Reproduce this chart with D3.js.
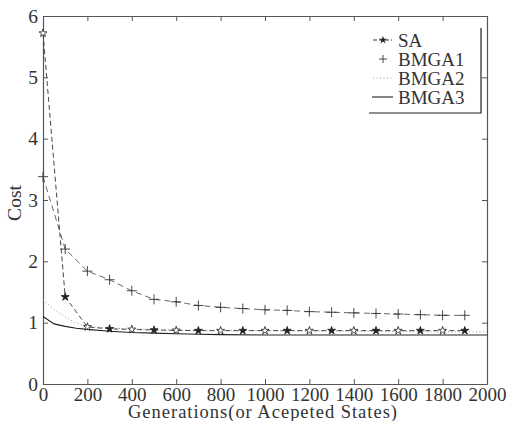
<!DOCTYPE html>
<html lang="en">
<head>
<meta charset="UTF-8">
<script src="https://d3js.org/d3.v7.min.js"></script>
<style>
  html, body { margin: 0; padding: 0; background: #fff; overflow: hidden }
  .axis path, .axis line { stroke: #555; }
</style>
</head>
<body>
<svg id="chart" width="509" height="421"></svg>
<script>
const xTicks = [0, 200, 400, 600, 800, 1000, 1200, 1400, 1600, 1800, 2000];
const yTicks = [0, 1, 2, 3, 4, 5, 6];

const saX = [0, 100, 200, 300, 400, 500, 600, 700, 800, 900, 1000, 1100, 1200, 1300, 1400, 1500, 1600, 1700, 1800, 1900];
const saY = [5.72, 1.42, 0.93, 0.9, 0.89, 0.88, 0.875, 0.87, 0.87, 0.87, 0.87, 0.87, 0.87, 0.87, 0.87, 0.87, 0.87, 0.87, 0.87, 0.87];

const bm1X = [0, 100, 200, 300, 400, 500, 600, 700, 800, 900, 1000, 1100, 1200, 1300, 1400, 1500, 1600, 1700, 1800, 1900];
const bm1Y = [3.38, 2.2, 1.84, 1.7, 1.52, 1.38, 1.34, 1.28, 1.25, 1.23, 1.21, 1.2, 1.18, 1.17, 1.16, 1.15, 1.14, 1.13, 1.12, 1.12];

const bm2X = [0, 70, 145, 200, 300, 400, 500, 600, 800, 1000, 1200, 1400, 1600, 1800, 2000];
const bm2Y = [1.37, 1.16, 1.0, 0.94, 0.91, 0.9, 0.89, 0.88, 0.875, 0.87, 0.865, 0.86, 0.855, 0.85, 0.85];

const bm3X = [0, 50, 100, 150, 200, 300, 400, 500, 600, 700, 800, 1000, 1200, 1400, 1600, 1800, 2000];
const bm3Y = [1.1, 0.98, 0.94, 0.91, 0.89, 0.86, 0.84, 0.83, 0.82, 0.81, 0.805, 0.8, 0.8, 0.8, 0.8, 0.8, 0.8];

const FONT = "'Liberation Serif', 'DejaVu Serif', serif";
const svg = d3.select("#chart");
const L = 43, R = 487, T = 16, B = 384;

const x = d3.scaleLinear().domain([0, 2000]).range([L, R]);
const y = d3.scaleLinear().domain([0, 6]).range([B, T]);

// frame with inward ticks on all sides
svg.append("g").attr("class", "axis").attr("transform", `translate(0,${B})`)
  .call(d3.axisBottom(x).tickValues(xTicks).tickFormat(d3.format("d")).tickSizeInner(-5).tickSizeOuter(0).tickPadding(3))
  .call(g => g.selectAll("text").attr("font-size", 19));
svg.append("g").attr("class", "axis").attr("transform", `translate(0,${T})`)
  .call(d3.axisTop(x).tickValues(xTicks).tickSizeInner(-5).tickSizeOuter(0).tickFormat(""));
svg.append("g").attr("class", "axis").attr("transform", `translate(${L},0)`)
  .call(d3.axisLeft(y).tickValues(yTicks).tickFormat(d3.format("d")).tickSizeInner(-5).tickSizeOuter(0).tickPadding(5))
  .call(g => g.selectAll("text").attr("font-size", 19.5));
svg.append("g").attr("class", "axis").attr("transform", `translate(${R},0)`)
  .call(d3.axisRight(y).tickValues(yTicks).tickSizeInner(-5).tickSizeOuter(0).tickFormat(""));
svg.selectAll(".axis").attr("font-family", FONT);
svg.selectAll(".axis text").attr("fill", "#333");
svg.selectAll(".axis .domain").attr("stroke-width", 1.2);

const pts = (xs, ys) => xs.map((v, i) => [v, ys[i]]);
const line = d3.line().x(d => x(d[0])).y(d => y(d[1]));

const sa = pts(saX, saY), bm1 = pts(bm1X, bm1Y), bm2 = pts(bm2X, bm2Y), bm3 = pts(bm3X, bm3Y);

svg.append("path").datum(bm3).attr("d", line)
  .attr("fill", "none").attr("stroke", "#222").attr("stroke-width", 1.1);
svg.append("path").datum(bm2).attr("d", line)
  .attr("fill", "none").attr("stroke", "#999").attr("stroke-width", 1).attr("stroke-dasharray", "1,2.5");
svg.append("path").datum(bm1).attr("d", line)
  .attr("fill", "none").attr("stroke", "#555").attr("stroke-width", 0.9).attr("stroke-dasharray", "6,4");
svg.append("path").datum(sa).attr("d", line)
  .attr("fill", "none").attr("stroke", "#333").attr("stroke-width", 0.9).attr("stroke-dasharray", "5,3");

svg.append("g").selectAll("path").data(bm1).join("path")
  .attr("transform", d => `translate(${x(d[0])},${y(d[1])})`)
  .attr("d", "M-5,0H5M0,-5V5").attr("stroke", "#333").attr("stroke-width", 0.9).attr("fill", "none");

const star = d3.symbol().type(d3.symbolStar).size(20);
svg.append("g").selectAll("path").data(sa).join("path")
  .attr("transform", d => `translate(${x(d[0])},${y(d[1])})`)
  .attr("d", star).attr("fill", (d, i) => i % 2 ? "#222" : "#fff").attr("stroke", "#222").attr("stroke-width", 0.8);

// legend
const lg = svg.append("g").attr("font-family", FONT);
lg.append("path").attr("d", "M369,113H481V28").attr("fill", "none").attr("stroke", "#222").attr("stroke-width", 1.2);
const entries = ["SA", "BMGA1", "BMGA2", "BMGA3"];
entries.forEach((name, i) => {
  const yy = 40 + i * 19;
  lg.append("text").attr("x", 398).attr("y", yy).attr("dy", "0.35em").attr("font-size", 19).attr("fill", "#333").text(name);
  if (i === 0) {
    lg.append("path").attr("d", `M373,${yy}H392`).attr("stroke", "#333").attr("stroke-dasharray", "4,2");
    lg.append("path").attr("transform", `translate(383,${yy})`).attr("d", star).attr("fill", "#222");
  } else if (i === 1) {
    lg.append("path").attr("d", `M379,${yy}H387M383,${yy - 4}V${yy + 4}`).attr("stroke", "#333").attr("stroke-width", 0.9);
  } else if (i === 2) {
    lg.append("path").attr("d", `M373,${yy}H392`).attr("stroke", "#999").attr("stroke-dasharray", "1,2.5");
  } else {
    lg.append("path").attr("d", `M372,${yy}H393`).attr("stroke", "#222").attr("stroke-width", 1.1);
  }
});

// axis labels
svg.append("text").attr("x", 128).attr("y", 418)
  .attr("textLength", 269).attr("lengthAdjust", "spacing")
  .attr("font-family", FONT).attr("font-size", 18.5).attr("fill", "#333").text("Generations(or Acepeted States)");
svg.append("text").attr("transform", "translate(21,203) rotate(-90)").attr("text-anchor", "middle")
  .attr("font-family", FONT).attr("font-size", 19.5).attr("fill", "#333").text("Cost");
</script>
</body>
</html>
